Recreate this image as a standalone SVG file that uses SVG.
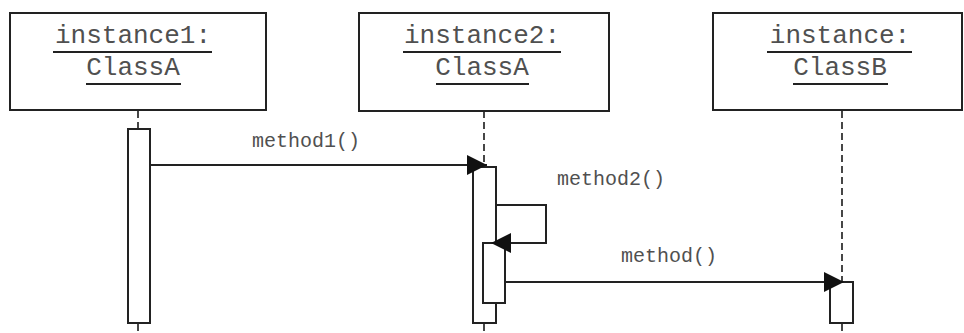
<svg xmlns="http://www.w3.org/2000/svg" width="964" height="333" viewBox="0 0 964 333">
  <style>
    .obj { fill: #fff; stroke: #222; stroke-width: 2; }
    .name { font-family: "Liberation Mono", "Courier New", monospace; font-size: 26px; fill: #505050; text-anchor: middle; }
    .uline { stroke: #222; stroke-width: 2; }
    .life { stroke: #333; stroke-width: 1.8; stroke-dasharray: 7 4; fill: none; }
    .act { fill: #fff; stroke: #222; stroke-width: 2; }
    .msg { stroke: #222; stroke-width: 2; fill: none; }
    .lbl { font-family: "Liberation Mono", "Courier New", monospace; font-size: 20px; fill: #505050; text-anchor: middle; }
  </style>
  <defs>
    <marker id="head-lg" viewBox="0 0 20 20" refX="20" refY="10" markerWidth="20" markerHeight="20" markerUnits="userSpaceOnUse" orient="auto">
      <path d="M0,0 L20,10 L0,20 Z" fill="#111"/>
    </marker>
  </defs>

  <rect width="964" height="333" fill="#fff"/>

  <!-- lifelines -->
  <g id="lifelines">
    <line class="life" x1="138" y1="111" x2="138" y2="128"/>
    <line class="life" x1="138" y1="324" x2="138" y2="333"/>
    <line class="life" x1="484" y1="111" x2="484" y2="166"/>
    <line class="life" x1="484" y1="324" x2="484" y2="333"/>
    <line class="life" x1="842" y1="111" x2="842" y2="282"/>
    <line class="life" x1="842" y1="324" x2="842" y2="333"/>
  </g>

  <g id="instance1">
    <rect class="obj" x="10" y="13" width="256" height="97"/>
    <text class="name" x="133" y="43">instance1:</text>
    <line class="uline" x1="53" y1="52" x2="212" y2="52"/>
    <text class="name" x="133" y="75">ClassA</text>
    <line class="uline" x1="86" y1="84" x2="181" y2="84"/>
  </g>

  <g id="instance2">
    <rect class="obj" x="359" y="13" width="250" height="98"/>
    <text class="name" x="482" y="43">instance2:</text>
    <line class="uline" x1="403" y1="52" x2="561" y2="52"/>
    <text class="name" x="482" y="75">ClassA</text>
    <line class="uline" x1="436" y1="84" x2="529" y2="84"/>
  </g>

  <g id="instance3">
    <rect class="obj" x="713" y="13" width="249" height="97"/>
    <text class="name" x="840" y="43">instance:</text>
    <line class="uline" x1="767" y1="52" x2="912" y2="52"/>
    <text class="name" x="840" y="75">ClassB</text>
    <line class="uline" x1="793" y1="84" x2="888" y2="84"/>
  </g>

  <!-- activation bars -->
  <g id="activations">
    <rect class="act" x="128" y="129" width="22" height="194"/>
    <rect class="act" x="473" y="167" width="23" height="156"/>
    <rect class="act" x="483" y="243" width="22" height="60"/>
    <rect class="act" x="830" y="282" width="23" height="41"/>
  </g>

  <!-- messages -->
  <g id="connectors">
    <line class="msg" x1="150" y1="165" x2="487" y2="165" marker-end="url(#head-lg)"/>
    <polyline class="msg" points="496,205 546,205 546,243 491,243" marker-end="url(#head-lg)"/>
    <line class="msg" x1="505" y1="282" x2="844" y2="282" marker-end="url(#head-lg)"/>
  </g>

  <g id="labels">
    <text class="lbl" x="306" y="147">method1()</text>
    <text class="lbl" x="611" y="185">method2()</text>
    <text class="lbl" x="669" y="262">method()</text>
  </g>
</svg>
